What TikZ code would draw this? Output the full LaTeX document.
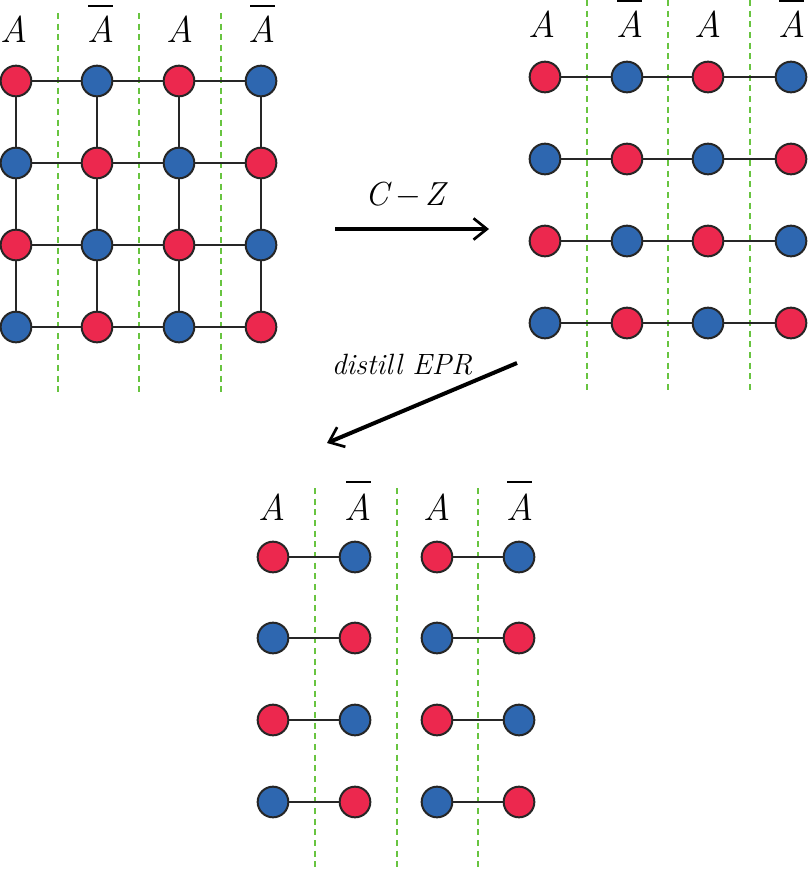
\documentclass[tikz,border=0pt]{standalone}
\usetikzlibrary{arrows.meta}
\definecolor{qred}{RGB}{236,40,78}
\definecolor{qblue}{RGB}{46,103,176}
\definecolor{cutgreen}{RGB}{104,196,64}
\tikzset{
  qr/.style={circle,draw=black!85,line width=1.5pt,fill=qred,minimum size=23pt,inner sep=0pt},
  qb/.style={circle,draw=black!85,line width=1.5pt,fill=qblue,minimum size=23pt,inner sep=0pt},
  bond/.style={draw=black!85,line width=1.2pt},
  cut/.style={draw=cutgreen,line width=1.5pt,dash pattern=on 4.5pt off 3.5pt},
  lab/.style={font=\fontsize{28}{30}\selectfont\itshape,inner sep=0pt},
  bigarrow/.style={line width=3pt,-{Straight Barb[length=10pt,width=16pt,line width=2pt]}},
  arrlab/.style={font=\fontsize{25}{28}\selectfont\itshape,inner sep=0pt},
  bar/.style={draw=black,line width=1.3pt}
}
\begin{document}
\begin{tikzpicture}[x=0.75pt,y=-0.75pt]
\useasboundingbox (0,0) rectangle (809,875);
% ---------- left grid ----------
\foreach \x in {58,139,221}
  \draw[cut] (\x,13) -- (\x,395);
\foreach \x [count=\i] in {16,97,179,261}{
  \foreach \y [count=\j] in {81,163,245,327}{
    \pgfmathtruncatemacro{\p}{mod(\i+\j,2)}
    \ifnum\p=0 \node[qr] (L\i\j) at (\x,\y) {};\else \node[qb] (L\i\j) at (\x,\y) {};\fi
  }}
\foreach \i/\k in {1/2,2/3,3/4}{
  \foreach \j in {1,2,3,4}{
    \draw[bond] (L\i\j) -- (L\k\j);
    \draw[bond] (L\j\i) -- (L\j\k);
  }}
\node[lab] (la1) at (14,29) {A};
\node[lab] (la2) at (101,29) {A};
\node[lab] (la3) at (180,29) {A};
\node[lab] (la4) at (262,29) {A};
\draw[bar] (88,6) -- (113,6);
\draw[bar] (250,6) -- (275,6);
% ---------- arrow C-Z ----------
\coordinate (cz1) at (335,229);
\coordinate (cz2) at (489,229);
\draw[bigarrow] (cz1) -- (cz2);
\node[arrlab] (czl) at (405,195) {C\hspace{5pt}$-$\hspace{3pt}Z};
% ---------- right chains ----------
\foreach \x in {587,668,750}
  \draw[cut] (\x,0) -- (\x,390);
\foreach \x [count=\i] in {545,627,708,791}{
  \foreach \y [count=\j] in {77,159,241,323}{
    \pgfmathtruncatemacro{\p}{mod(\i+\j,2)}
    \ifnum\p=0 \node[qr] (R\i\j) at (\x,\y) {};\else \node[qb] (R\i\j) at (\x,\y) {};\fi
  }}
\foreach \i/\k in {1/2,2/3,3/4}{
  \foreach \j in {1,2,3,4}{
    \draw[bond] (R\i\j) -- (R\k\j);
  }}
\node[lab] (ra1) at (542,24) {A};
\node[lab] (ra2) at (630,24) {A};
\node[lab] (ra3) at (708,24) {A};
\node[lab] (ra4) at (792,24) {A};
\draw[bar] (617,1) -- (642,1);
\draw[bar] (779,1) -- (804,1);
% ---------- arrow distill ----------
\coordinate (de1) at (517,363);
\coordinate (de2) at (327,443);
\draw[bigarrow] (de1) -- (de2);
\node[arrlab,font=\fontsize{22}{25}\selectfont\itshape] (del) at (402,365) {distill EPR};
% ---------- bottom pairs ----------
\foreach \x in {315,397,478}
  \draw[cut] (\x,488) -- (\x,870);
\foreach \x [count=\i] in {273,355,437,519}{
  \foreach \y [count=\j] in {557,638,720,802}{
    \pgfmathtruncatemacro{\p}{mod(\i+\j,2)}
    \ifnum\p=0 \node[qr] (B\i\j) at (\x,\y) {};\else \node[qb] (B\i\j) at (\x,\y) {};\fi
  }}
\foreach \j in {1,2,3,4}{
  \draw[bond] (B1\j) -- (B2\j);
  \draw[bond] (B3\j) -- (B4\j);
}
\node[lab] (ba1) at (272,507) {A};
\node[lab] (ba2) at (358,507) {A};
\node[lab] (ba3) at (437,507) {A};
\node[lab] (ba4) at (520,507) {A};
\draw[bar] (346,482) -- (371,482);
\draw[bar] (507,482) -- (532,482);
\end{tikzpicture}
\end{document}
